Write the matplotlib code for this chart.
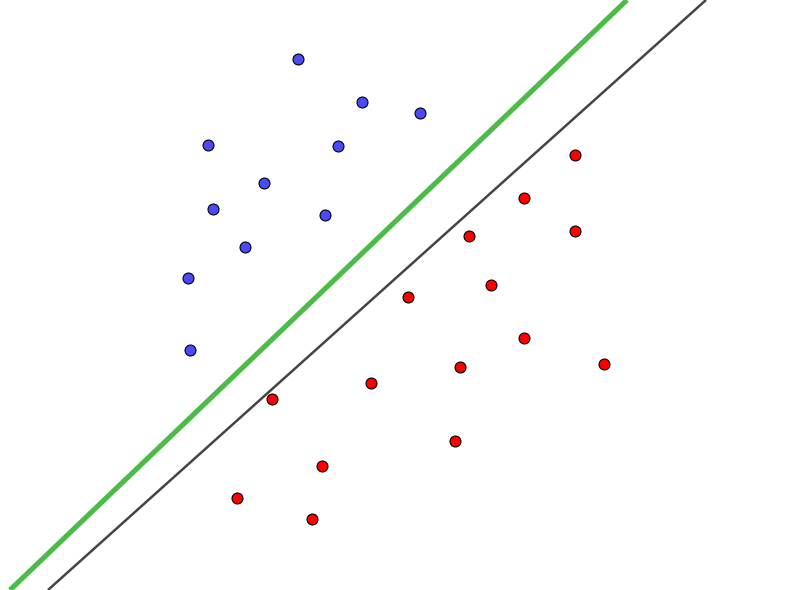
import matplotlib
matplotlib.use("Agg")
import matplotlib.pyplot as plt

# point positions (pixel-like units, y grows downward)
blue_x = [298, 362, 420, 208, 338, 264, 213, 325, 245, 188, 190]
blue_y = [59, 102, 113, 145, 146, 183, 209, 215, 247, 278, 350]

red_x = [575, 524, 469, 575, 408, 491, 524, 604, 460, 371, 272, 455, 322, 237, 312]
red_y = [155, 198, 236, 231, 297, 285, 338, 364, 367, 383, 399, 441, 466, 498, 519]

# separating lines: endpoints (x0, y0, x1, y1)
green_line = [10, 590, 627, 0]
dark_line = [48, 590, 706, 0]

fig = plt.figure(figsize=(7.99, 5.90), dpi=100, facecolor="white")
ax = fig.add_axes([0, 0, 1, 1])
ax.set_xlim(0, 799)
ax.set_ylim(590, 0)
ax.axis("off")

ax.plot(green_line[0::2], green_line[1::2], color="#4cbb47", lw=3.7, zorder=1,
        solid_capstyle="butt")
ax.plot(dark_line[0::2], dark_line[1::2], color="#444444", lw=1.8, zorder=1,
        solid_capstyle="butt")

ax.scatter(blue_x, blue_y, s=62, color="#4b4bf5", edgecolor="black", lw=0.8, zorder=3)
ax.scatter(red_x, red_y, s=62, color="#ff0000", edgecolor="black", lw=0.8, zorder=3)

fig.savefig("out.png", dpi=100, facecolor="white")
